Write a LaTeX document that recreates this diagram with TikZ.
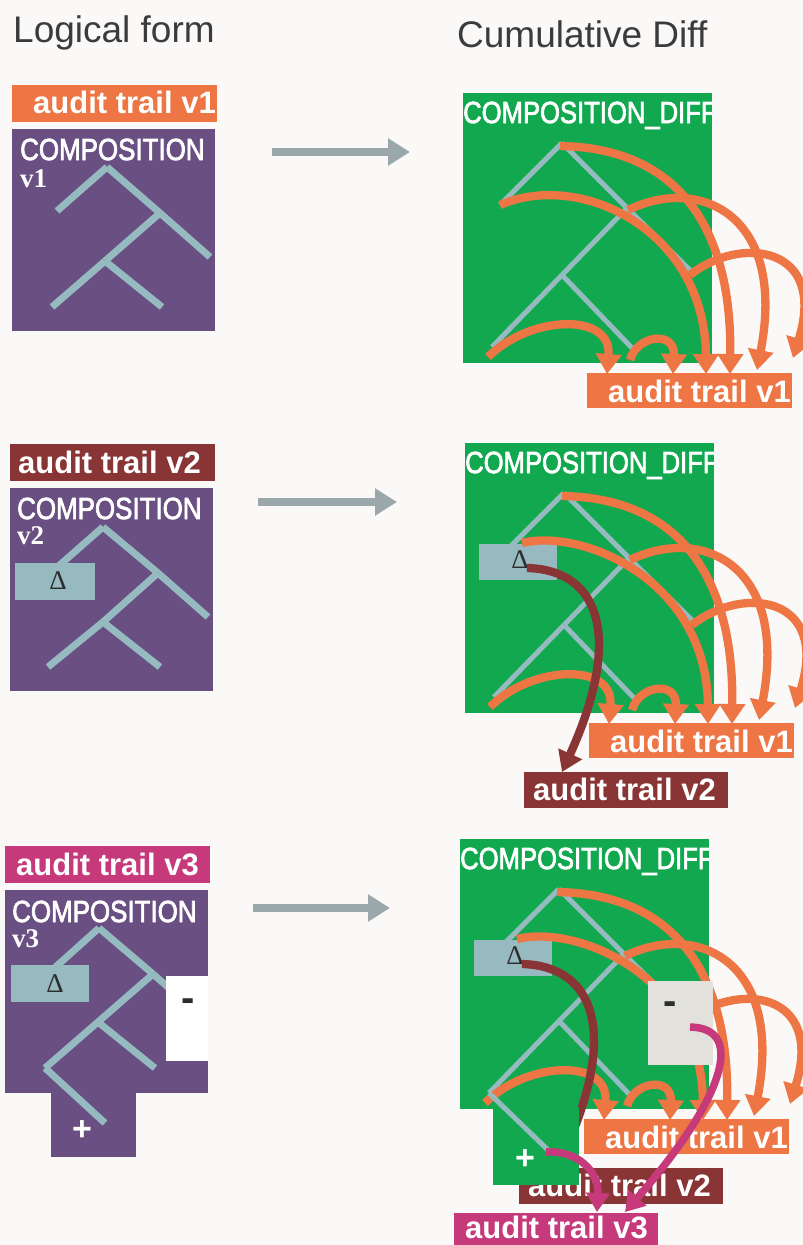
\documentclass[tikz,border=0pt]{standalone}
\usepackage{fontspec}
\setmainfont{Liberation Sans}
\newfontfamily\seriff{Liberation Serif}
\newfontfamily\condfont{Liberation Sans}[FakeBold=2.5]
\usepackage{graphicx}
\usetikzlibrary{arrows.meta}
\definecolor{bg}{RGB}{250,249,247}
\definecolor{orng}{RGB}{238,117,68}
\definecolor{purp}{RGB}{106,79,130}
\definecolor{grn}{RGB}{18,168,79}
\definecolor{treec}{RGB}{149,186,192}
\definecolor{dboxc}{RGB}{150,186,192}
\definecolor{dred}{RGB}{138,53,53}
\definecolor{mag}{RGB}{198,58,123}
\definecolor{garrow}{RGB}{154,167,171}
\definecolor{minusc}{RGB}{226,225,220}
\definecolor{hdr}{RGB}{59,59,61}
\definecolor{dglyph}{RGB}{45,45,45}
\tikzset{
  rbox/.style={rectangle, inner sep=0pt, outer sep=0pt, anchor=north west, draw=none},
  hdrtxt/.style={inner sep=0pt, anchor=base west, text=hdr, font=\fontsize{37}{37}\selectfont},
  lbl/.style={inner sep=0pt, anchor=base west, text=white, font=\fontsize{31}{31}\selectfont\bfseries},
  comptxt/.style={inner sep=0pt, anchor=base west, text=white, font=\condfont\fontsize{30.5}{30.5}\selectfont},
  vtxt/.style={inner sep=0pt, anchor=base west, text=white, font=\fontsize{27}{27}\selectfont\seriff\bfseries},
  deltatxt/.style={inner sep=0pt, text=dglyph, font=\fontsize{27}{27}\selectfont\seriff},
  minustxt/.style={inner sep=0pt, anchor=base, text=dglyph, font=\fontsize{40}{40}\selectfont\bfseries},
  plustxt/.style={inner sep=0pt, anchor=base, text=white, font=\fontsize{34}{34}\selectfont\bfseries},
  treeL/.style={draw=treec, line width=7pt},
  treeR/.style={draw=treec, line width=5pt},
  orarc/.style={draw=orng, line width=8.3pt, -{Triangle[length=20pt,width=25pt]}},
  redarc/.style={draw=dred, line width=8.3pt, -{Triangle[length=20pt,width=25pt]}},
  magarc/.style={draw=mag, line width=7.5pt, -{Triangle[length=19pt,width=23pt]}},
  garr/.style={draw=garrow, line width=8pt, -{Triangle[length=22pt,width=26pt]}},
}
% ---------- diff panel pieces (panel-1 coordinates) ----------
\newcommand\diffcore{%
  \node[rbox, fill=grn, minimum width=249, minimum height=270] (green) at (463,93) {};
  \begin{scope}
    \clip (463,93) rectangle (712,363);
    \node[comptxt] (title) at (463,123) {\scalebox{0.84}[1]{COMPOSITION\_DIFF}};
  \end{scope}
  \coordinate (R0) at (562,143);
  \coordinate (L1) at (500,205);
  \coordinate (N1) at (627,208);
  \coordinate (R1) at (693,273);
  \coordinate (BL) at (492,347);
  \coordinate (J) at (562,275);
  \coordinate (BR) at (632,348);
  \draw[treeR] (R0) -- (L1);
  \draw[treeR] (R0) -- (N1);
  \draw[treeR] (N1) -- (R1);
  \draw[treeR] (N1) -- (J);
  \draw[treeR] (J) -- (BL);
  \draw[treeR] (J) -- (BR);
}
\newcommand\diffdelta{%
  \node[rbox, fill=dboxc, minimum width=78, minimum height=36] (dbox) at (477,194) {};
  \node[deltatxt] (dsym) at (518,210) {Δ};
}
\newcommand\diffarcs[2]{%
  \coordinate (sA) at (560,146); \coordinate (tA) at (730,374);
  \coordinate (sB) at #1;        \coordinate (tB) at (706,374);
  \coordinate (sC) at (628,210); \coordinate (tC) at (757,370);
  \coordinate (sD) at (690,275); \coordinate (tD) at (793,358);
  \coordinate (sE) at (488,357); \coordinate (tE) at (607,374);
  \coordinate (sF) at (630,360); \coordinate (tF) at (673,374);
  \draw[orarc] (sE) .. controls (530,315) and (612,312) .. (tE);
  \draw[orarc] (sF) .. controls (637,335) and (675,330) .. (tF);
  \draw[orarc] (sD) .. controls (740,235) and (828,245) .. (tD);
  \draw[orarc] (sC) .. controls (700,175) and (787,215) .. (tC);
  \draw[orarc] (sB) .. controls #2 and (705,230) .. (tB);
  \draw[orarc] (sA) .. controls (680,148) and (732,230) .. (tA);
  \node[rbox, fill=orng, minimum width=205, minimum height=35] (v1box) at (587,373) {};
  \node[lbl] (v1txt) at (608,402) {audit trail v1};
}
\newcommand\diffred{%
  \coordinate (sRed) at (525,218); \coordinate (tRed) at (560,422);
  \draw[redarc] (sRed) .. controls (600,220) and (620,290) .. (tRed);
}
\newcommand\difftwo{%
  \node[rbox, fill=dred, minimum width=204, minimum height=36] (v2box) at (522,422) {};
  \node[lbl] (v2txt) at (531,450) {audit trail v2};
}
\begin{document}
\begin{tikzpicture}[x=1pt,y=-1pt]
\useasboundingbox (0,0) rectangle (803,1245);
\fill[bg] (0,0) rectangle (803,1245);
\node[hdrtxt] (h1) at (13,42) {Logical form};
\node[hdrtxt] (h2) at (457,47) {Cumulative Diff};

% ================= left panel 1 =================
\node[rbox, fill=orng, minimum width=205, minimum height=37] (a1lab) at (12,85) {};
\node[lbl] (a1labt) at (33,113) {audit trail v1};
\node[rbox, fill=purp, minimum width=203, minimum height=202] (a1box) at (12,129) {};
\node[comptxt] (a1comp) at (20,160) {\scalebox{0.85}[1]{COMPOSITION}};
\node[vtxt] (a1v) at (20,187) {v1};
\coordinate (a1r) at (107,167);
\coordinate (a1l) at (57,211);
\coordinate (a1n) at (160,213);
\coordinate (a1rr) at (210,257);
\coordinate (a1bl) at (52,307);
\coordinate (a1j) at (105,261);
\coordinate (a1br) at (162,307);
\draw[treeL] (a1r) -- (a1l);
\draw[treeL] (a1r) -- (a1n);
\draw[treeL] (a1n) -- (a1rr);
\draw[treeL] (a1n) -- (a1j);
\draw[treeL] (a1j) -- (a1bl);
\draw[treeL] (a1j) -- (a1br);

% ================= left panel 2 =================
\node[rbox, fill=dred, minimum width=205, minimum height=37] (a2lab) at (10,444) {};
\node[lbl] (a2labt) at (18,473) {audit trail v2};
\node[rbox, fill=purp, minimum width=203, minimum height=203] (a2box) at (10,488) {};
\node[comptxt] (a2comp) at (17,519) {\scalebox{0.85}[1]{COMPOSITION}};
\node[vtxt] (a2v) at (17,544) {v2};
\coordinate (a2r) at (103,527);
\coordinate (a2l) at (54,570);
\coordinate (a2n) at (158,573);
\coordinate (a2rr) at (208,617);
\coordinate (a2bl) at (48,667);
\coordinate (a2j) at (103,622);
\coordinate (a2br) at (160,667);
\draw[treeL] (a2r) -- (a2l);
\draw[treeL] (a2r) -- (a2n);
\draw[treeL] (a2n) -- (a2rr);
\draw[treeL] (a2n) -- (a2j);
\draw[treeL] (a2j) -- (a2bl);
\draw[treeL] (a2j) -- (a2br);
\node[rbox, fill=dboxc, minimum width=80, minimum height=37] (a2dbox) at (15,563) {};
\node[deltatxt] (a2dsym) at (58,581) {Δ};

% ================= left panel 3 =================
\node[rbox, fill=mag, minimum width=205, minimum height=37] (a3lab) at (5,846) {};
\node[lbl] (a3labt) at (16,875) {audit trail v3};
\node[rbox, fill=purp, minimum width=203, minimum height=203] (a3box) at (5,890) {};
\node[rbox, fill=purp, minimum width=85, minimum height=65] (a3ext) at (51,1092) {};
\node[comptxt] (a3comp) at (12,922) {\scalebox{0.85}[1]{COMPOSITION}};
\node[vtxt] (a3v) at (12,947) {v3};
\coordinate (a3r) at (99,928);
\coordinate (a3l) at (50,972);
\coordinate (a3n) at (153,974);
\coordinate (a3rr) at (203,1018);
\coordinate (a3bl) at (45,1068);
\coordinate (a3j) at (98,1022);
\coordinate (a3br) at (155,1068);
\coordinate (a3plus) at (105,1123);
\draw[treeL] (a3r) -- (a3l);
\draw[treeL] (a3r) -- (a3n);
\draw[treeL] (a3n) -- (a3rr);
\draw[treeL] (a3n) -- (a3j);
\draw[treeL] (a3j) -- (a3bl);
\draw[treeL] (a3j) -- (a3br);
\draw[treeL] (a3bl) -- (a3plus);
\node[rbox, fill=white, minimum width=42, minimum height=85] (a3minus) at (166,976) {};
\node[minustxt] (a3minust) at (188,1011) {-};
\node[rbox, fill=dboxc, minimum width=78, minimum height=37] (a3dbox) at (11,965) {};
\node[deltatxt] (a3dsym) at (55,984) {Δ};
\node[plustxt] (a3plust) at (82,1140) {+};

% ================= grey arrows =================
\coordinate (g1s) at (272,152); \coordinate (g1e) at (410,152);
\coordinate (g2s) at (258,502); \coordinate (g2e) at (397,502);
\coordinate (g3s) at (253,908); \coordinate (g3e) at (390,908);
\draw[garr] (g1s) -- (g1e);
\draw[garr] (g2s) -- (g2e);
\draw[garr] (g3s) -- (g3e);

% ================= diff panel 1 =================
\begin{scope}[name prefix=p1-]
  \diffcore
  \diffarcs{(500,205)}{(580,170)}
\end{scope}

% ================= diff panel 2 =================
\begin{scope}[shift={(2,350)}, name prefix=p2-]
  \diffcore
  \diffdelta
  \diffarcs{(520,193)}{(580,178)}
  \diffred
  \difftwo
\end{scope}

% ================= diff panel 3 =================
\begin{scope}[shift={(-3,746)}, name prefix=p3-]
  \diffcore
  \diffdelta
  \diffarcs{(520,193)}{(580,178)}
  \diffred
  \difftwo
  \node[rbox, fill=minusc, minimum width=65, minimum height=84] (mbox) at (651,235) {};
  \node[minustxt] (mtxt) at (673,268) {-};
  \node[rbox, fill=grn, minimum width=86, minimum height=78] (gext) at (496,361) {};
  \coordinate (plusleaf) at (551,404);
  \draw[treeR] (BL) -- (plusleaf);
  \node[plustxt] (ptxt) at (528,423) {+};
  \coordinate (sM1) at (549,406); \coordinate (tM1) at (600,466);
  \coordinate (sM2) at (693,281); \coordinate (tM2) at (628,466);
  \draw[magarc] (sM1) .. controls (580,404) and (602,425) .. (tM1);
  \draw[magarc] (sM2) .. controls (750,282) and (726,354) .. (tM2);
  \node[rbox, fill=mag, minimum width=204, minimum height=40] (v3box) at (457,467) {};
  \node[lbl] (v3txt) at (468,492) {audit trail v3};
\end{scope}
\end{tikzpicture}
\end{document}
